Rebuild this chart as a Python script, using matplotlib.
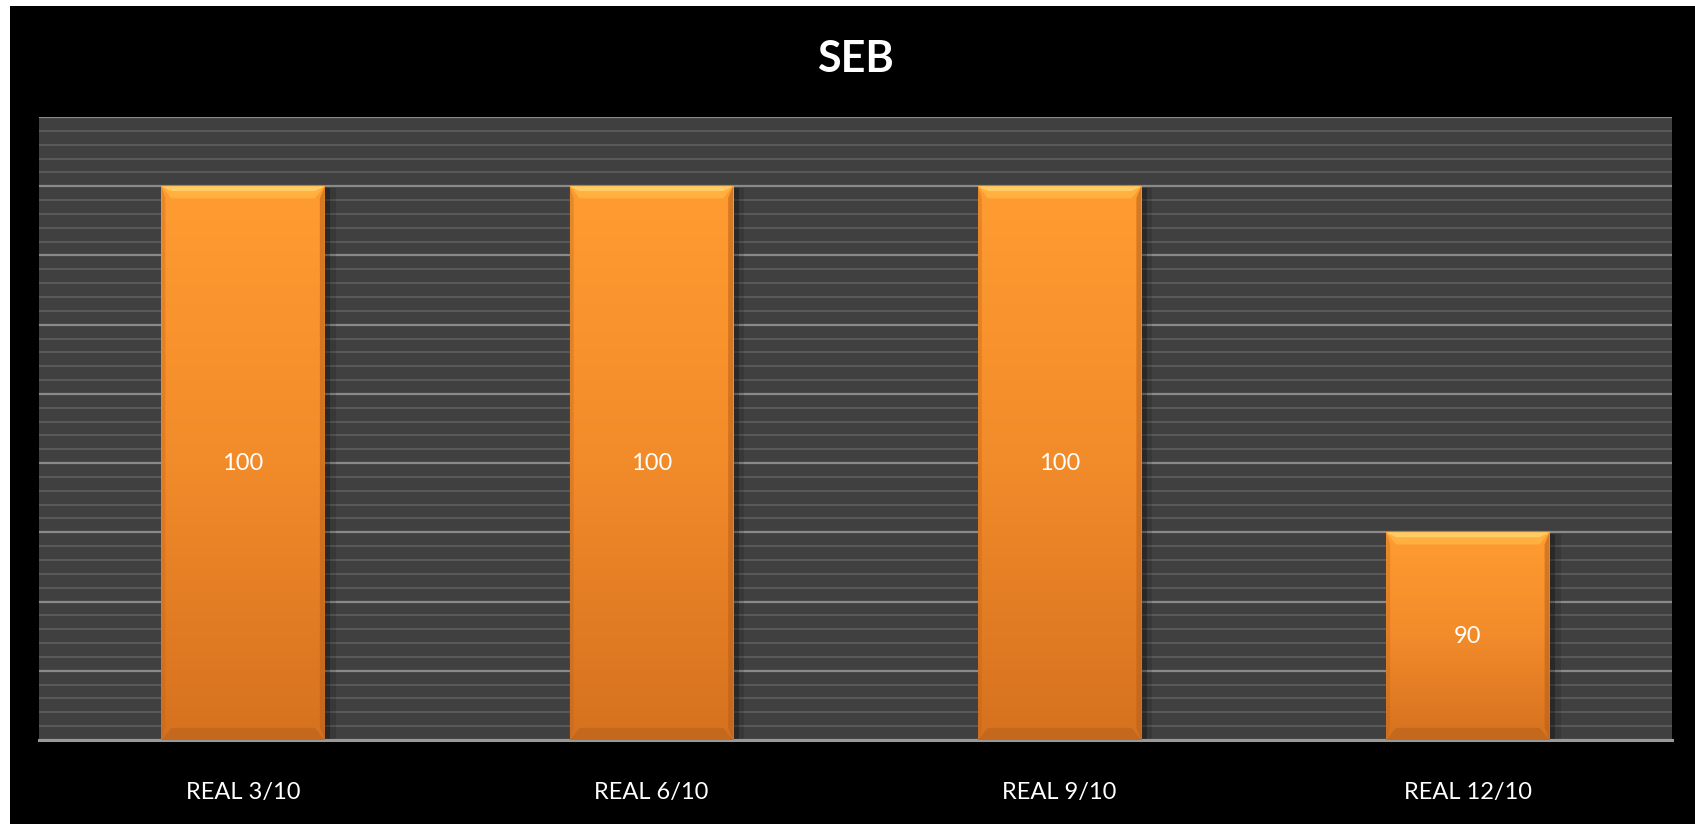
import matplotlib
matplotlib.use("Agg")
import matplotlib.pyplot as plt
import matplotlib.patheffects as pe
from matplotlib.colors import LinearSegmentedColormap
import numpy as np

title = "SEB"
categories = ["REAL 3/10", "REAL 6/10", "REAL 9/10", "REAL 12/10"]
values = [100, 100, 100, 90]
y_min, y_max = 84, 102

plt.rcParams['font.family'] = ['Lato', 'DejaVu Sans']

fig = plt.figure(figsize=(16.95, 8.24), dpi=100, facecolor='white')
# black chart area with thin white margin top/left
fig.patches.append(plt.Rectangle((10 / 1695, 0), 1 - 10 / 1695, 1 - 6 / 824,
                                 transform=fig.transFigure, facecolor='black',
                                 edgecolor='none', zorder=-5))

ax = fig.add_axes([39 / 1695, 84 / 824, (1672 - 39) / 1695, (740 - 117) / 824])
ax.set_zorder(1)
ax.set_facecolor('#404040')

x = np.arange(len(categories))
width = 0.4
bars = ax.bar(x, values, width=width, color='#F08A28', zorder=2,
              path_effects=[pe.SimplePatchShadow(offset=(4, -1), shadow_rgbFace='black', alpha=0.25),
                            pe.SimplePatchShadow(offset=(8, -1), shadow_rgbFace='black', alpha=0.12),
                            pe.Normal()])

grad = LinearSegmentedColormap.from_list('orange', ['#D6711F', '#F28B2A', '#FF9C31'])
for b, v in zip(bars, values):
    x0 = b.get_x()
    x1 = x0 + b.get_width()
    img = np.linspace(0, 1, 256).reshape(-1, 1)
    ax.imshow(img, cmap=grad, origin='lower', aspect='auto',
              extent=[x0, x1, y_min, v], zorder=3)
    # bevel: light top strip, darker sides and bottom
    bev_x = b.get_width() * 0.06
    bev_y = 0.35
    ax.fill([x0, x1, x1 - bev_x, x0 + bev_x], [v, v, v - bev_y, v - bev_y],
            color='#FFB040', zorder=4, lw=0)
    ax.fill([x0, x1, x1 - bev_x, x0 + bev_x], [v, v, v - bev_y * 0.4, v - bev_y * 0.4],
            color='#FFCC66', zorder=4, lw=0)
    ax.fill([x1, x1, x1 - bev_x * 0.5, x1 - bev_x * 0.5], [v, y_min, y_min + bev_y, v - bev_y],
            color='#B85E18', alpha=0.55, zorder=4, lw=0)
    ax.fill([x0, x0, x0 + bev_x * 0.4, x0 + bev_x * 0.4], [v, y_min, y_min + bev_y, v - bev_y],
            color='#C0641A', alpha=0.35, zorder=4, lw=0)
    ax.fill([x0, x1, x1 - bev_x, x0 + bev_x], [y_min, y_min, y_min + bev_y, y_min + bev_y],
            color='#B8621C', alpha=0.6, zorder=4, lw=0)
    ax.text(b.get_x() + b.get_width() / 2, (y_min + v) / 2, str(v),
            ha='center', va='center', color='white', fontsize=17, zorder=5)

ax.set_xlim(-0.5, len(categories) - 0.5)
ax.set_ylim(y_min, y_max)
ax.set_yticks(np.arange(y_min, y_max + 0.01, 2))
ax.set_yticks(np.arange(y_min, y_max + 0.01, 0.4), minor=True)
ax.grid(axis='y', which='major', color='#8a8a8a', lw=1.6, zorder=1)
ax.grid(axis='y', which='minor', color='#5a5a5a', lw=1.4, zorder=1)
ax.set_axisbelow(True)
ax.tick_params(axis='y', which='both', left=False, labelleft=False)
ax.set_xticks(x)
ax.set_xticklabels(categories, color='white', fontsize=17)
ax.tick_params(axis='x', length=0, pad=30)

for s in ['left', 'right', 'top']:
    ax.spines[s].set_visible(False)
ax.spines['bottom'].set_color('#999999')
ax.spines['bottom'].set_linewidth(2.2)

fig.text(855 / 1695, 1 - 59 / 824, title, ha='center', va='center',
         color='white', fontsize=31, fontweight='bold')

fig.savefig('out.png', dpi=100, facecolor=fig.get_facecolor())
